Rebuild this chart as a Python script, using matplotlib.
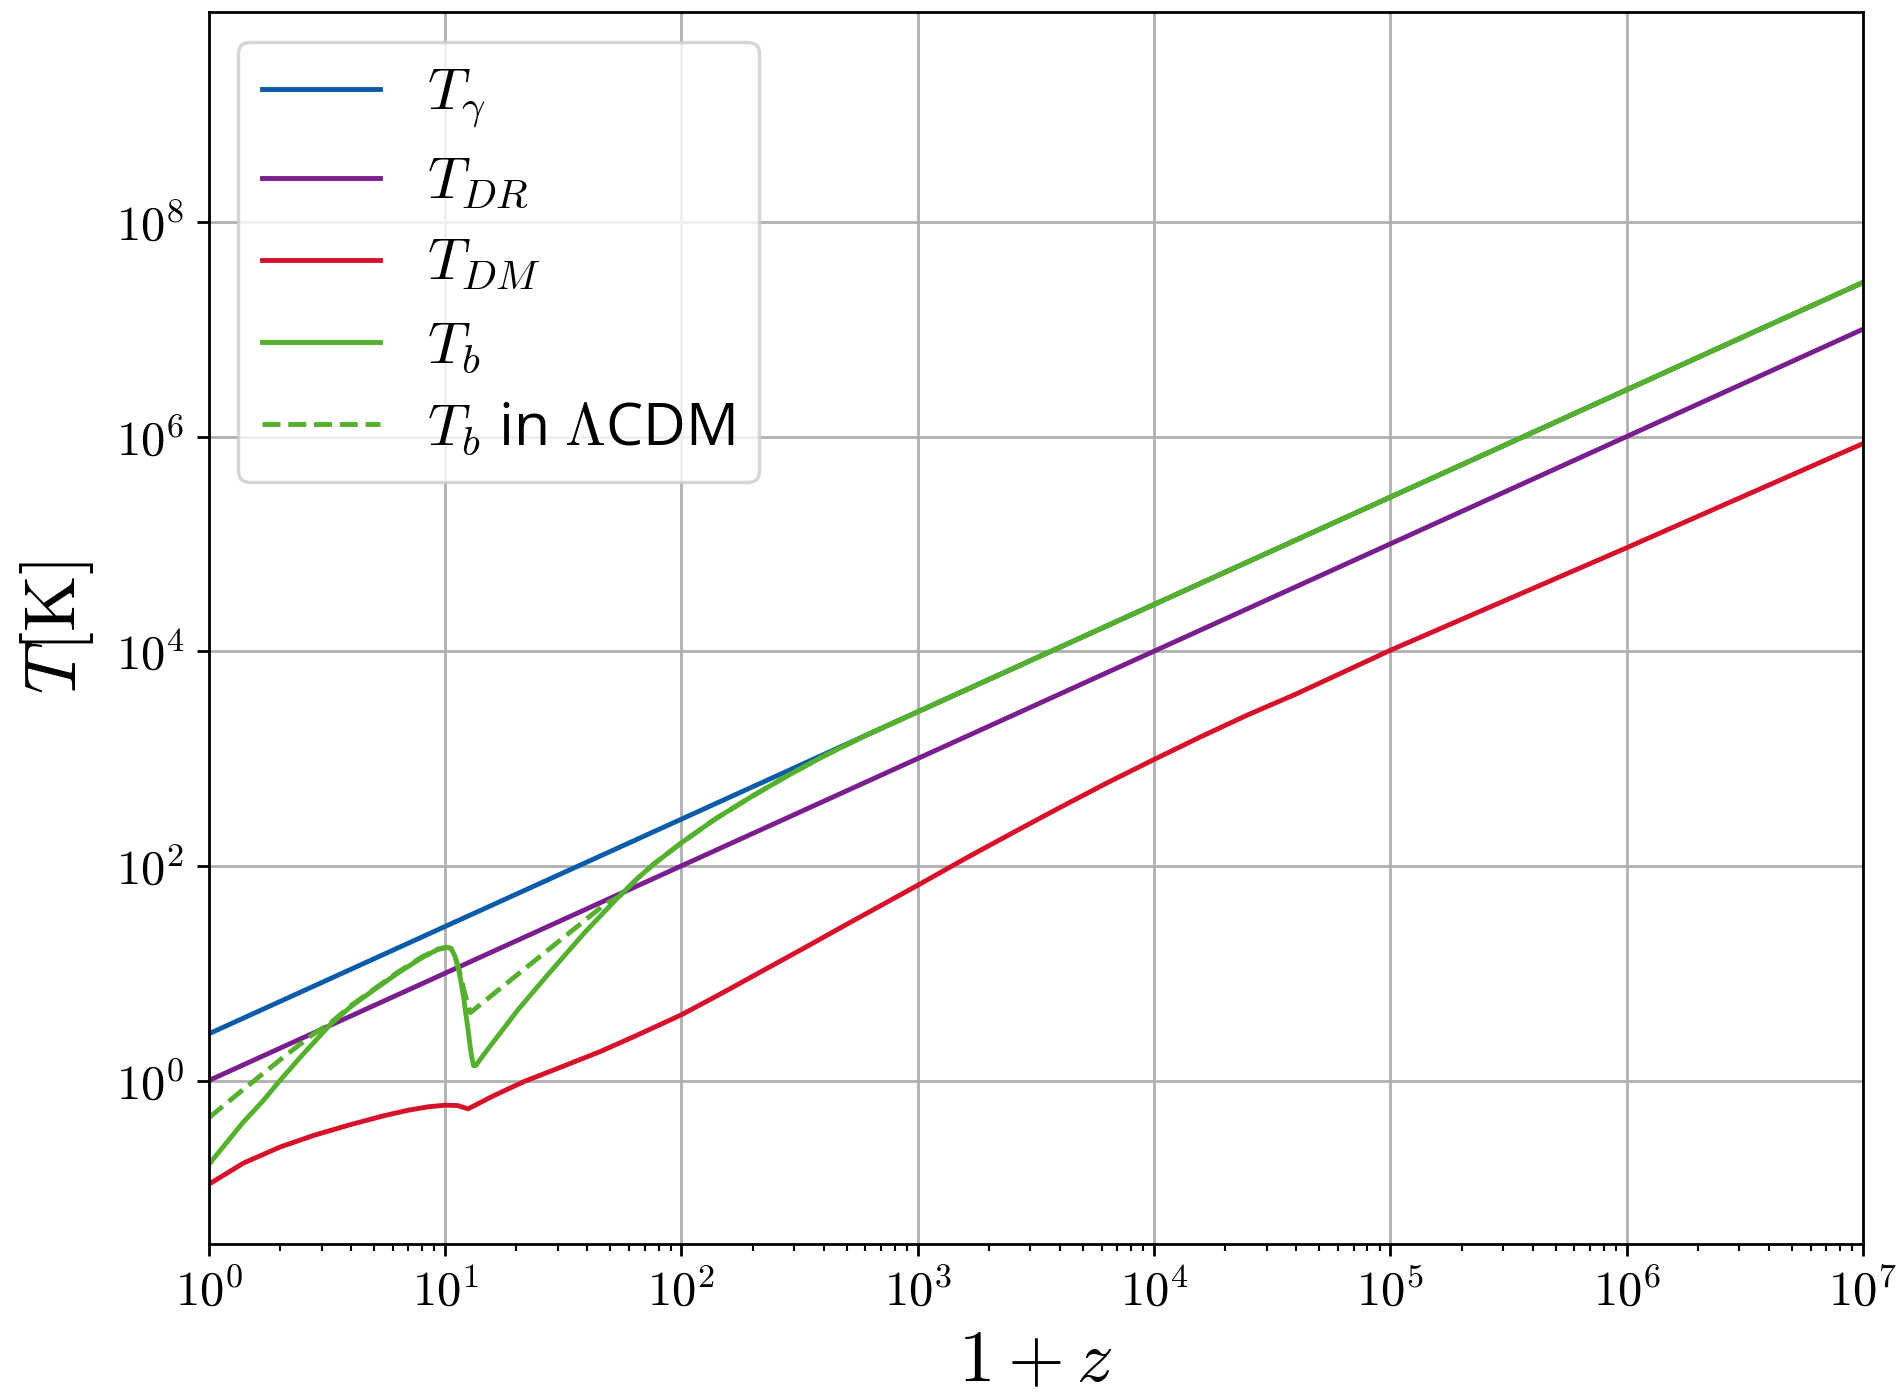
import matplotlib
matplotlib.use("Agg")
import matplotlib.pyplot as plt
import matplotlib.ticker as mticker
import numpy as np

plt.rcParams["mathtext.fontset"] = "cm"
plt.rcParams["font.family"] = ["Open Sans", "DejaVu Sans"]

# ── Datos (1+z, temperatura en K) ─────────────────────────────────────────────

z_gamma = [1, 1e7]
T_gamma = [2.725, 2.725e7]

z_dr = [1, 1e7]
T_dr = [1.0, 1.0e7]

z_dm = [1, 1.4, 2, 2.8, 4, 5.5, 7, 8.5, 10, 11.3, 12.5, 16, 21.6, 30, 45, 65,
        100, 150, 220, 320, 500, 1000, 1600, 2550, 4000, 6300, 1e4, 1.6e4,
        2.5e4, 4e4, 1e5, 1e6, 1e7]
T_dm = [0.108, 0.17, 0.24, 0.31, 0.39, 0.47, 0.53, 0.57, 0.59, 0.585, 0.545,
        0.72, 0.98, 1.3, 1.85, 2.65, 4.1, 6.6, 10.5, 16.5, 28.5, 66, 118, 206,
        350, 590, 980, 1620, 2560, 4000, 1.02e4, 9.2e4, 8.6e5]

z_b = [1, 1.2, 1.4, 1.7, 2.0, 2.5, 3.3, 4.0, 5.0, 6.3, 8.0, 9.3, 10.2, 10.6,
       11.0, 11.5, 12.0, 12.5, 12.9, 13.2, 13.5, 14, 15, 20.4, 27, 39, 54, 65,
       76, 100, 140, 200, 280, 400, 600, 1000, 1e7]
T_b = [0.165, 0.27, 0.41, 0.65, 1.0, 1.75, 3.4, 4.9, 7.0, 10.0, 14.0, 16.6,
       17.4, 17.0, 14.5, 10.0, 5.8, 3.0, 1.75, 1.38, 1.38, 1.55, 1.9, 4.6, 9.5,
       24, 51, 76, 103, 164, 276, 448, 688, 1053, 1635, 2725, 2.725e7]

z_lcdm = [1, 1.45, 2.14, 2.7, 3.3, 4.0, 5.0, 6.3, 8.0, 9.3, 10.2, 10.6, 11.0,
          11.5, 12.0, 12.5, 12.8, 20, 30, 47.5, 54, 65, 76, 100, 140, 200, 280,
          400, 600, 1000, 1e7]
T_lcdm = [0.45, 0.88, 1.75, 2.6, 3.5, 5.0, 7.1, 10.2, 14.2, 16.8, 17.5, 17.0,
          14.5, 10.5, 7.0, 5.0, 4.3, 9.5, 19.5, 44, 51, 76, 103, 164, 276, 448,
          688, 1053, 1635, 2725, 2.725e7]

fig = plt.figure(figsize=(7.612, 5.6), dpi=250)
ax = fig.add_axes([0.1097, 0.1114, 0.8693, 0.88])

lw = 1.4
ax.plot(z_gamma, T_gamma, color="#0b5ca8", lw=lw, label=r"$T_\gamma$")
ax.plot(z_dr, T_dr, color="#7a1d8e", lw=lw, label=r"$T_{DR}$")
ax.plot(z_dm, T_dm, color="#d7112a", lw=lw, label=r"$T_{DM}$")
ax.plot(z_b, T_b, color="#55b02e", lw=lw, label=r"$T_b$")
ax.plot(z_lcdm, T_lcdm, color="#55b02e", lw=lw, ls="--",
        label=r"$T_b$ in $\Lambda$CDM")

ax.set_xscale("log")
ax.set_yscale("log")
ax.set_xlim(1, 1e7)
ax.set_ylim(3e-2, 9e9)

fmt = mticker.FuncFormatter(lambda v, _: rf"$10^{{{int(round(np.log10(v)))}}}$")
ax.xaxis.set_major_locator(mticker.LogLocator(base=10, numticks=20))
ax.xaxis.set_minor_locator(mticker.LogLocator(base=10, subs=np.arange(2, 10), numticks=100))
ax.xaxis.set_major_formatter(fmt)
ax.xaxis.set_minor_formatter(mticker.NullFormatter())
ax.yaxis.set_major_locator(mticker.FixedLocator([1e0, 1e2, 1e4, 1e6, 1e8]))
ax.yaxis.set_minor_locator(mticker.NullLocator())
ax.yaxis.set_major_formatter(fmt)
ax.tick_params(labelsize=14)

ax.grid(True, which="major", color="#b0b0b0", lw=0.8)
ax.set_axisbelow(True)

ax.set_xlabel(r"$1+z$", fontsize=21, labelpad=2)
ax.set_ylabel(r"$T[\mathrm{K}]$", fontsize=21)
ax.yaxis.set_label_coords(-0.068, 0.5)

ax.legend(loc="upper left", fontsize=17, labelspacing=0.4)

plt.savefig("out.png", dpi=250)
plt.close()
